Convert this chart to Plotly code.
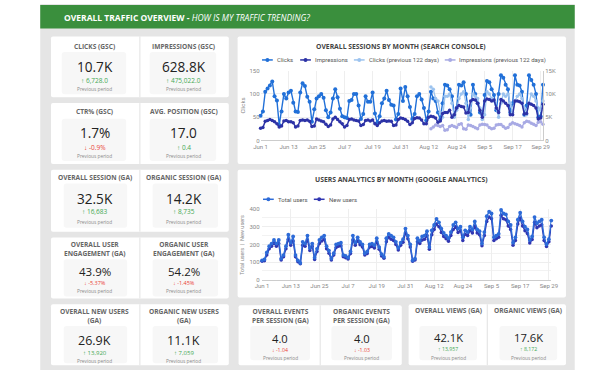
import plotly.graph_objects as go
import pandas as pd

# ---------------- DATA ----------------
dates = pd.date_range("2023-06-01", "2023-09-30", freq="D")
prev_dates = pd.date_range("2023-08-13", "2023-09-30", freq="D")

clicks = [
    53, 62, 105, 112, 118, 127, 95, 86, 33, 62, 100, 90, 103, 107, 81, 62, 61, 103, 123, 117, 94, 83, 40, 67, 90, 95, 100, 92, 65, 50,
    60, 90, 110, 93, 68, 52, 50, 48, 85, 87, 100, 100, 75, 46, 57, 95, 83, 83, 103, 58, 38, 52, 80, 90, 107, 87, 77, 75, 45, 57, 112,
    85, 115, 95, 72, 46, 57, 95, 100, 88, 70, 43, 62, 105, 90, 85, 60, 45, 80, 120, 118, 110, 95, 55, 70, 120, 118, 125, 100, 65, 55, 120,
    100, 80, 60, 55, 98, 128, 125, 110, 98, 65, 100, 140, 135, 120, 110, 60, 80, 140, 120, 118, 105, 55, 75, 140, 130, 120, 100, 50, 52, 120,
]
impressions = [
    2600, 2800, 4100, 4300, 4500, 4300, 4000, 3600, 2900, 3100, 4200, 4300, 4000, 4000, 3800, 2900, 3100, 4300, 4400, 4300, 4400, 4100, 3000, 3100, 4600, 4400, 4200, 4000, 3500, 3000,
    3300, 4600, 5000, 4500, 4000, 3600, 2900, 3200, 4500, 4600, 4400, 4300, 4200, 3200, 3400, 4300, 4400, 4200, 4400, 3600, 3200, 3800, 4200, 4300, 4100, 4200, 4100, 3200, 3300, 4500, 4800,
    4700, 4500, 4100, 3400, 3800, 4700, 4900, 4800, 4400, 3600, 3600, 5000, 5200, 5100, 4800, 3900, 4200, 5800, 6000, 6000, 6500, 5000, 5500, 7000, 7500, 7300, 7200, 5900, 6000, 8500, 8800,
    8700, 8000, 6500, 5000, 8500, 8900, 8800, 8500, 8700, 7000, 6000, 8800, 8500, 8000, 7500, 5500, 5500, 8500, 8500, 8300, 8000, 5700, 5800, 8000, 7800, 7500, 7000, 4600, 4800, 7800,
]
clicks_prev = [
    115, 110, 90, 85, 60, 50, 95, 95, 100, 80, 50, 65, 90, 100, 105, 80, 45, 70, 100,
    95, 90, 70, 45, 55, 105, 100, 90, 85, 70, 50, 80, 100, 95, 100, 80, 60, 85, 95, 100, 90, 70, 55, 80, 100, 95, 85, 70, 65, 85,
]
impressions_prev = [
    2500, 2900, 3300, 3200, 3000, 3200, 2200, 2300, 3000, 3200, 3000, 2800, 3400, 3600, 2500, 2400, 3300, 3200, 3000,
    2700, 2500, 3300, 3500, 3400, 3300, 2800, 2500, 2600, 3300, 3400, 3400, 3000, 2600, 2800, 3500, 3800, 3600, 3400, 3200, 2900, 3800, 4100, 4000, 3700, 3500, 3200, 3900, 4000, 3500,
]
total_users = [
    110, 115, 155, 190, 205, 225, 205, 225, 120, 140,
    190, 255, 210, 245, 140, 110, 95, 215, 205, 250,
    180, 205, 125, 175, 225, 240, 250, 190, 165, 120,
    150, 200, 205, 210, 140, 135, 125, 160, 250, 210,
    240, 215, 200, 150, 160, 200, 205, 195, 235, 185,
    145, 130, 235, 260, 250, 240, 215, 180, 210, 230,
    290, 250, 200, 110, 120, 235, 220, 245, 250, 275,
    185, 280, 310, 345, 325, 290, 265, 250, 235, 270,
    310, 325, 290, 300, 240, 280, 270, 300, 285, 330,
    285, 275, 205, 270, 360, 385, 375, 240, 250, 260,
    395, 375, 370, 330, 310, 210, 240, 340, 380, 330,
    300, 285, 225, 245, 355, 320, 330, 340, 240, 200,
    230, 335,
]
new_users = [
    105, 108, 140, 175, 190, 205, 190, 205, 112, 130,
    175, 230, 195, 220, 130, 102, 90, 195, 190, 225,
    165, 190, 115, 160, 205, 220, 228, 175, 150, 112,
    140, 182, 190, 192, 130, 125, 118, 148, 225, 195,
    220, 198, 185, 140, 148, 185, 188, 180, 215, 172,
    135, 122, 215, 240, 230, 222, 200, 168, 195, 212,
    265, 232, 185, 105, 112, 215, 205, 225, 230, 250,
    172, 255, 285, 315, 300, 268, 245, 232, 218, 250,
    285, 300, 268, 278, 222, 258, 250, 278, 265, 305,
    265, 255, 192, 250, 330, 355, 345, 222, 232, 240,
    365, 345, 340, 305, 285, 195, 222, 315, 350, 305,
    278, 262, 208, 228, 325, 295, 305, 312, 222, 188,
    215, 305,
]

tick_dates = ["2023-06-01", "2023-06-13", "2023-06-25", "2023-07-07", "2023-07-19", "2023-07-31",
              "2023-08-12", "2023-08-24", "2023-09-05", "2023-09-17", "2023-09-29"]
tick_labels = ["Jun 1", "Jun 13", "Jun 25", "Jul 7", "Jul 19", "Jul 31",
               "Aug 12", "Aug 24", "Sep 5", "Sep 17", "Sep 29"]

kpi_titles = ["CLICKS (GSC)", "IMPRESSIONS (GSC)", "CTR% (GSC)", "AVG. POSITION (GSC)",
              "OVERALL SESSION (GA)", "ORGANIC SESSION (GA)",
              "OVERALL USER<br>ENGAGEMENT (GA)", "ORGANIC USER<br>ENGAGEMENT (GA)",
              "OVERALL NEW USERS<br>(GA)", "ORGANIC NEW USERS<br>(GA)",
              "OVERALL EVENTS<br>PER SESSION (GA)", "ORGANIC EVENTS<br>PER SESSION (GA)",
              "OVERALL VIEWS (GA)", "ORGANIC VIEWS (GA)"]
kpi_values = ["10.7K", "628.8K", "1.7%", "17.0", "32.5K", "14.2K", "43.9%", "54.2%",
              "26.9K", "11.1K", "4.0", "4.0", "42.1K", "17.6K"]
kpi_deltas = ["6,728.0", "475,022.0", "-0.9%", "0.4", "16,683", "8,735", "-5.37%", "-1.45%",
              "13,920", "7,059", "-1.04", "-1.03", "13,957", "8,172"]
kpi_up = [True, True, False, True, True, True, False, False, True, True, False, False, True, True]

chart1_title = "OVERALL SESSIONS BY MONTH (SEARCH CONSOLE)"
chart2_title = "USERS ANALYTICS BY MONTH (GOOGLE ANALYTICS)"
header_main = "OVERALL TRAFFIC OVERVIEW -"
header_sub = "HOW IS MY TRAFFIC TRENDING?"

# ---------------- STYLE / LAYOUT ----------------
W, H = 613, 375
def X(x): return x / W
def Y(y): return 1 - y / H

C_CLICKS = "#2170d8"
C_IMPR = "#2c32a6"
C_CLICKS_P = "#9cc3ef"
C_IMPR_P = "#a8aae4"
C_TOTAL = "#2d6bd8"
C_NEW = "#3036b2"
GREEN = "#43a853"
RED = "#ea4335"
FONT_T = "Open Sans"
FONT_C = "Roboto"

shapes = []
annos = []

def rrect(x0, y0, x1, y1, r, fill, line=None):
    def P(x, y): return f"{X(x):.5f},{Y(y):.5f}"
    path = (f"M {P(x0+r,y0)} L {P(x1-r,y0)} Q {P(x1,y0)} {P(x1,y0+r)} L {P(x1,y1-r)} "
            f"Q {P(x1,y1)} {P(x1-r,y1)} L {P(x0+r,y1)} Q {P(x0,y1)} {P(x0,y1-r)} L {P(x0,y0+r)} "
            f"Q {P(x0,y0)} {P(x0+r,y0)} Z")
    shapes.append(dict(type="path", path=path, xref="paper", yref="paper", fillcolor=fill,
                       line=dict(width=0 if line is None else 1, color=line or fill), layer="below"))

def text(x, y, s, size, color, family=FONT_T, anchor="center", angle=0):
    annos.append(dict(x=X(x), y=Y(y), xref="paper", yref="paper", text=s, showarrow=False,
                      xanchor=anchor, yanchor="middle", textangle=angle,
                      font=dict(size=size, color=color, family=family)))

# page background panel + header
shapes.append(dict(type="rect", xref="paper", yref="paper", x0=X(34), x1=X(581), y0=Y(373), y1=Y(0),
                   fillcolor="#e5e5e5", line=dict(width=0), layer="below"))
shapes.append(dict(type="rect", xref="paper", yref="paper", x0=X(34), x1=X(581), y0=Y(25), y1=Y(1),
                   fillcolor="#3a8f3d", line=dict(width=0), layer="below"))
text(56, 13.5, f"<b>{header_main}</b> <i>{header_sub}</i>", 8.5, "white", anchor="left")

# KPI card groups (x0, x1, y0, y1, divider)
groups = [(45, 227, 33, 95, 136), (45, 227, 101, 163, 136), (45, 227, 169, 232, 136),
          (45, 227, 238, 300, 136), (45, 227, 306, 368, 136),
          (237, 404, 307, 368, 320.5), (411, 572, 306, 368, 491.5)]
for (x0, x1, y0, y1, d) in groups:
    rrect(x0, y0, x1, y1, 2, "white")
    shapes.append(dict(type="line", xref="paper", yref="paper", x0=X(d), x1=X(d), y0=Y(y0), y1=Y(y1),
                       line=dict(color="#e2e2e2", width=1), layer="below"))

# per KPI: center x, title y, box (x0,x1,y0,y1), value y, delta y, prev y, value size, delta size
L, R = 90, 181
kpi_pos = [
    (L, 43, (56, 122, 49, 92), 64, 78, 87, 13.6, 6.5),
    (R, 43, (146, 214, 49, 92), 64, 78, 87, 13.6, 6.5),
    (L, 110, (56, 122, 117, 160), 131, 146, 155, 13.6, 6.5),
    (R, 110, (146, 214, 117, 160), 131, 146, 155, 13.6, 6.5),
    (L, 177, (58, 123, 183, 228), 198, 211, 222, 13.6, 6.5),
    (R, 177, (149, 216, 183, 228), 198, 211, 222, 13.6, 6.5),
    (L, 250, (58, 123, 260, 298), 273, 284, 292.5, 11.5, 5.5),
    (R, 250, (149, 216, 260, 298), 273, 284, 292.5, 11.5, 5.5),
    (L, 318, (58, 123, 328, 366), 343, 356, 364, 12.5, 6),
    (R, 318, (149, 216, 328, 366), 343, 356, 364, 12.5, 6),
    (279.5, 318, (249, 310, 328, 363), 340.5, 352.5, 361, 11.2, 5.2),
    (363, 318, (332, 394, 328, 363), 340.5, 352.5, 361, 11.2, 5.2),
    (451.5, 312, (422, 481, 328, 363), 340, 352, 360.5, 11.2, 5.2),
    (533.5, 312, (504, 563, 328, 363), 340, 352, 360.5, 11.2, 5.2),
]
for i, (cx, ty, box, vy, dy, pyy, vs, ds) in enumerate(kpi_pos):
    rrect(box[0], box[2], box[1], box[3], 3, "#f7f7f7")
    text(cx, ty, f"<b>{kpi_titles[i]}</b>", 6.6, "#666666")
    text(cx, vy, kpi_values[i], vs, "#222222")
    arrow = "↑" if kpi_up[i] else "↓"
    col = GREEN if kpi_up[i] else RED
    text(cx, dy, f"<b>{arrow}</b> {kpi_deltas[i]}", ds, col)
    text(cx, pyy, "Previous period", 4.8, "#8a8a8a")

# chart cards
rrect(236, 33, 572, 163, 2, "white")
rrect(236, 169, 572, 299, 2, "white")
text(403.5, 43, f"<b>{chart1_title}</b>", 6.8, "#444444")
text(403.5, 179, f"<b>{chart2_title}</b>", 6.8, "#444444")

# custom legends
def legend_item(x0, y, color, label, msize=2.0):
    shapes.append(dict(type="line", xref="paper", yref="paper", x0=X(x0), x1=X(x0 + 11), y0=Y(y), y1=Y(y),
                       line=dict(color=color, width=1.5)))
    shapes.append(dict(type="circle", xref="paper", yref="paper", x0=X(x0 + 5.5 - msize), x1=X(x0 + 5.5 + msize),
                       y0=Y(y + msize), y1=Y(y - msize), fillcolor=color, line=dict(width=0)))
    text(x0 + 13, y, label, 6, "#555555", family=FONT_C, anchor="left")

legend_item(261, 57, C_CLICKS, "Clicks")
legend_item(300, 57, C_IMPR, "Impressions")
legend_item(355, 57, C_CLICKS_P, "Clicks (previous 122 days)")
legend_item(448, 57, C_IMPR_P, "Impressions (previous 122 days)")
legend_item(262, 199, C_TOTAL, "Total users")
legend_item(314, 199, C_NEW, "New users")

text(241, 103, "Clicks", 6, "#888888", family=FONT_C, angle=-90)
text(241, 245, "Total users  |  New users", 5.5, "#888888", family=FONT_C, angle=-90)

# ---------------- FIGURE ----------------
fig = go.Figure()
fig.add_trace(go.Scatter(x=dates, y=clicks, mode="lines+markers", name="Clicks", xaxis="x", yaxis="y",
                         line=dict(color=C_CLICKS, width=1.4), marker=dict(size=4, color=C_CLICKS), cliponaxis=False))
fig.add_trace(go.Scatter(x=prev_dates, y=clicks_prev, mode="lines+markers", name="Clicks (previous 122 days)",
                         xaxis="x", yaxis="y",
                         line=dict(color=C_CLICKS_P, width=1.3), marker=dict(size=3.5, color=C_CLICKS_P), cliponaxis=False))
fig.add_trace(go.Scatter(x=prev_dates, y=impressions_prev, mode="lines+markers", name="Impressions (previous 122 days)",
                         xaxis="x", yaxis="y2",
                         line=dict(color=C_IMPR_P, width=1.3), marker=dict(size=3.5, color=C_IMPR_P), cliponaxis=False))
fig.add_trace(go.Scatter(x=dates, y=impressions, mode="lines+markers", name="Impressions", xaxis="x", yaxis="y2",
                         line=dict(color=C_IMPR, width=1.5), marker=dict(size=3.5, color=C_IMPR), cliponaxis=False))
fig.add_trace(go.Scatter(x=dates, y=new_users, mode="lines+markers", name="New users", xaxis="x2", yaxis="y3",
                         line=dict(color=C_NEW, width=1.4), marker=dict(size=3.5, color=C_NEW), cliponaxis=False))
fig.add_trace(go.Scatter(x=dates, y=total_users, mode="lines+markers", name="Total users", xaxis="x2", yaxis="y3",
                         line=dict(color=C_TOTAL, width=1.4), marker=dict(size=3.8, color=C_TOTAL), cliponaxis=False))

tickfont = dict(size=6, color="#888888", family=FONT_C)
xcommon = dict(type="date", tickvals=tick_dates, ticktext=tick_labels, showgrid=True, gridcolor="#eeeeee",
               gridwidth=1, tickfont=tickfont, ticks="", showline=True, linecolor="#cccccc", zeroline=False,
               range=["2023-06-01", "2023-09-30"], fixedrange=True)

fig.update_layout(
    width=W, height=H, margin=dict(l=0, r=0, t=0, b=0),
    paper_bgcolor="white", plot_bgcolor="rgba(0,0,0,0)", showlegend=False,
    xaxis=dict(domain=[X(259.5), X(548.5)], anchor="y", **xcommon),
    yaxis=dict(domain=[Y(139), Y(68)], range=[0, 150], tickvals=[0, 50, 100, 150], showgrid=True,
               gridcolor="#eeeeee", tickfont=tickfont, zeroline=False, ticks="", showline=False),
    yaxis2=dict(overlaying="y", side="right", anchor="x", range=[0, 15000], tickvals=[0, 5000, 10000, 15000],
                ticktext=["0", "5K", "10K", "15K"], showgrid=False, tickfont=tickfont, zeroline=False,
                showline=True, linecolor="#cccccc", ticks=""),
    xaxis2=dict(domain=[X(261), X(557)], anchor="y3", **xcommon),
    yaxis3=dict(domain=[Y(281), Y(209)], range=[0, 400], tickvals=[0, 100, 200, 300, 400], showgrid=True,
                gridcolor="#eeeeee", tickfont=tickfont, zeroline=False, ticks="",
                minor=dict(tickvals=[50, 150, 250, 350], showgrid=True, gridcolor="#f2f2f2")),
    shapes=shapes, annotations=annos,
)

fig.write_html("out.html", config={"displayModeBar": False},
               post_script="document.body.style.margin='0';")
